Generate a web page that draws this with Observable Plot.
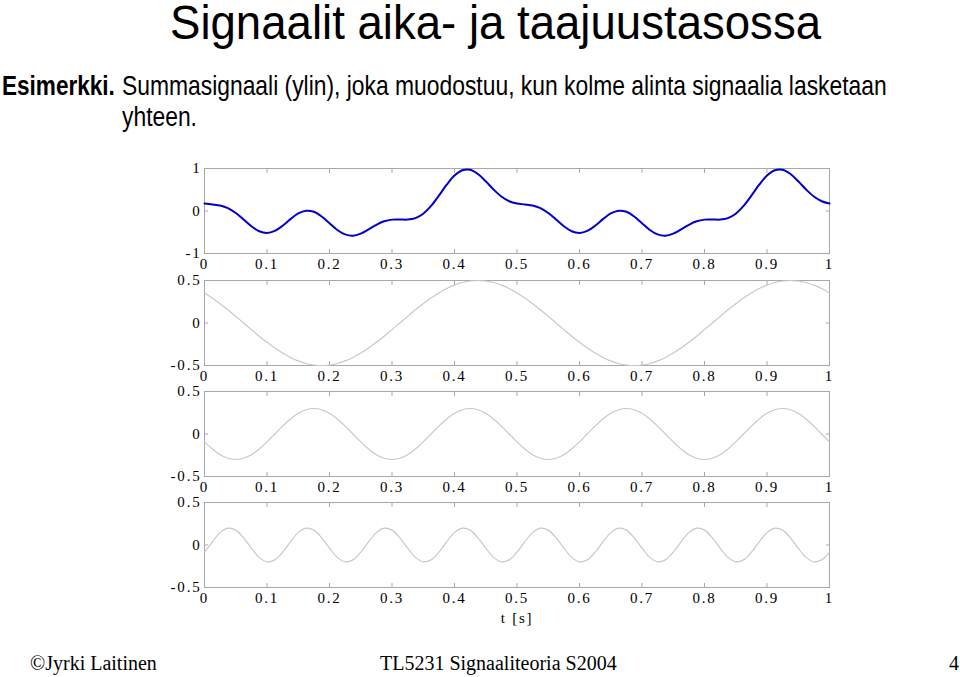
<!DOCTYPE html>
<html>
<head>
<meta charset="utf-8">
<script src="https://cdn.jsdelivr.net/npm/d3@7"></script>
<script src="https://cdn.jsdelivr.net/npm/@observablehq/plot@0.6"></script>
<style>
  html, body { margin: 0; padding: 0; background: #fff; }
  #page { position: relative; width: 960px; height: 677px; background: #fff; overflow: hidden; }
  .narrow { position: absolute; font-family: "Liberation Sans", Arial, sans-serif; transform-origin: 0 0; white-space: nowrap; color: #000; }
  .foot { position: absolute; font-family: "Liberation Serif", "Times New Roman", serif; font-size: 20px; white-space: nowrap; color: #000; }
  .panel { position: absolute; }
</style>
</head>
<body>
<div id="page">
  <div class="narrow" id="title" style="font-size:49px; line-height:42px; left:170px; top:1px; transform:scaleX(0.93);">Signaalit aika- ja taajuustasossa</div>
  <div class="narrow" style="font-size:27.5px; line-height:27.5px; left:2px; top:72px; transform:scaleX(0.82);"><b>Esimerkki.</b></div>
  <div class="narrow" style="font-size:27.5px; line-height:27.5px; left:122px; top:72px; transform:scaleX(0.831);">Summasignaali (ylin), joka muodostuu, kun kolme alinta signaalia lasketaan</div>
  <div class="narrow" style="font-size:27.5px; line-height:27.5px; left:122px; top:103px; transform:scaleX(0.831);">yhteen.</div>
  <div class="foot" style="left:30px; top:652px;">©Jyrki Laitinen</div>
  <div class="foot" style="left:380px; top:652px;">TL5231 Signaaliteoria S2004</div>
  <div class="foot" style="left:949px; top:652px;">4</div>
</div>
<script>
// ---- data ----
const times = [0, 0.0125, 0.025, 0.0375, 0.05, 0.0625, 0.075, 0.0875, 0.1, 0.1125,
  0.125, 0.1375, 0.15, 0.1625, 0.175, 0.1875, 0.2, 0.2125, 0.225, 0.2375,
  0.25, 0.2625, 0.275, 0.2875, 0.3, 0.3125, 0.325, 0.3375, 0.35, 0.3625,
  0.375, 0.3875, 0.4, 0.4125, 0.425, 0.4375, 0.45, 0.4625, 0.475, 0.4875,
  0.5, 0.5125, 0.525, 0.5375, 0.55, 0.5625, 0.575, 0.5875, 0.6, 0.6125,
  0.625, 0.6375, 0.65, 0.6625, 0.675, 0.6875, 0.7, 0.7125, 0.725, 0.7375,
  0.75, 0.7625, 0.775, 0.7875, 0.8, 0.8125, 0.825, 0.8375, 0.85, 0.8625,
  0.875, 0.8875, 0.9, 0.9125, 0.925, 0.9375, 0.95, 0.9625, 0.975, 0.9875, 1];

// top panel: sum signal (blue)
const sumSignal = [0.176, 0.155, 0.130, 0.068, -0.047, -0.200, -0.358, -0.477, -0.518, -0.469,
  -0.346, -0.192, -0.057, 0.007, -0.019, -0.130, -0.288, -0.446, -0.551, -0.580,
  -0.532, -0.433, -0.324, -0.242, -0.203, -0.200, -0.202, -0.167, -0.064, 0.119,
  0.362, 0.618, 0.835, 0.959, 0.969, 0.870, 0.700, 0.506, 0.341, 0.230,
  0.176, 0.155, 0.130, 0.068, -0.047, -0.200, -0.358, -0.477, -0.518, -0.469,
  -0.346, -0.192, -0.057, 0.007, -0.019, -0.130, -0.288, -0.446, -0.551, -0.580,
  -0.532, -0.433, -0.324, -0.242, -0.203, -0.200, -0.202, -0.167, -0.064, 0.119,
  0.362, 0.618, 0.835, 0.959, 0.969, 0.870, 0.700, 0.506, 0.341, 0.230, 0.176];

// second panel: 2 Hz component
const signal2 = [0.354, 0.294, 0.227, 0.155, 0.078, 0, -0.078, -0.155, -0.227, -0.294,
  -0.354, -0.405, -0.446, -0.476, -0.494, -0.5, -0.494, -0.476, -0.446, -0.405,
  -0.354, -0.294, -0.227, -0.155, -0.078, 0, 0.078, 0.155, 0.227, 0.294,
  0.354, 0.405, 0.446, 0.476, 0.494, 0.5, 0.494, 0.476, 0.446, 0.405,
  0.354, 0.294, 0.227, 0.155, 0.078, 0, -0.078, -0.155, -0.227, -0.294,
  -0.354, -0.405, -0.446, -0.476, -0.494, -0.5, -0.494, -0.476, -0.446, -0.405,
  -0.354, -0.294, -0.227, -0.155, -0.078, 0, 0.078, 0.155, 0.227, 0.294,
  0.354, 0.405, 0.446, 0.476, 0.494, 0.5, 0.494, 0.476, 0.446, 0.405, 0.354];

// third panel: 4 Hz component
const signal3 = [-0.093, -0.176, -0.243, -0.285, -0.3, -0.285, -0.243, -0.176, -0.093, 0,
  0.093, 0.176, 0.243, 0.285, 0.3, 0.285, 0.243, 0.176, 0.093, 0,
  -0.093, -0.176, -0.243, -0.285, -0.3, -0.285, -0.243, -0.176, -0.093, 0,
  0.093, 0.176, 0.243, 0.285, 0.3, 0.285, 0.243, 0.176, 0.093, 0,
  -0.093, -0.176, -0.243, -0.285, -0.3, -0.285, -0.243, -0.176, -0.093, 0,
  0.093, 0.176, 0.243, 0.285, 0.3, 0.285, 0.243, 0.176, 0.093, 0,
  -0.093, -0.176, -0.243, -0.285, -0.3, -0.285, -0.243, -0.176, -0.093, 0,
  0.093, 0.176, 0.243, 0.285, 0.3, 0.285, 0.243, 0.176, 0.093, 0, -0.093];

// bottom panel: 8 Hz component
const signal4 = [-0.085, 0.037, 0.146, 0.198, 0.175, 0.085, -0.037, -0.146, -0.198, -0.175,
  -0.085, 0.037, 0.146, 0.198, 0.175, 0.085, -0.037, -0.146, -0.198, -0.175,
  -0.085, 0.037, 0.146, 0.198, 0.175, 0.085, -0.037, -0.146, -0.198, -0.175,
  -0.085, 0.037, 0.146, 0.198, 0.175, 0.085, -0.037, -0.146, -0.198, -0.175,
  -0.085, 0.037, 0.146, 0.198, 0.175, 0.085, -0.037, -0.146, -0.198, -0.175,
  -0.085, 0.037, 0.146, 0.198, 0.175, 0.085, -0.037, -0.146, -0.198, -0.175,
  -0.085, 0.037, 0.146, 0.198, 0.175, 0.085, -0.037, -0.146, -0.198, -0.175,
  -0.085, 0.037, 0.146, 0.198, 0.175, 0.085, -0.037, -0.146, -0.198, -0.175, -0.085];

const xTicks = [0, 0.1, 0.2, 0.3, 0.4, 0.5, 0.6, 0.7, 0.8, 0.9, 1];
const yTicksSum = [-1, 0, 1];
const yTicksPart = [-0.5, 0, 0.5];
const xLabel = "t [s]";

// ---- drawing ----
const frameGray = "#a8a8a8";
const panels = [
  {values: sumSignal, yDomain: [-1, 1], yTicks: yTicksSum, color: "#0000c8", sw: 2, top: 168},
  {values: signal2, yDomain: [-0.5, 0.5], yTicks: yTicksPart, color: "#c8c8c8", sw: 1.2, top: 280},
  {values: signal3, yDomain: [-0.5, 0.5], yTicks: yTicksPart, color: "#c8c8c8", sw: 1.2, top: 391},
  {values: signal4, yDomain: [-0.5, 0.5], yTicks: yTicksPart, color: "#c8c8c8", sw: 1.2, top: 502, last: true}
];

const mL = 45, mR = 15, mT = 10, innerW = 625, innerH = 85;
const page = document.getElementById("page");

panels.forEach(p => {
  const rows = times.map((t, i) => ({t, v: p.values[i]}));
  const mB = p.last ? 50 : 25;
  const chart = Plot.plot({
    width: mL + innerW + mR,
    height: mT + innerH + mB,
    marginLeft: mL, marginRight: mR, marginTop: mT, marginBottom: mB,
    style: {background: "transparent", fontFamily: "'Liberation Serif', 'Times New Roman', serif",
            fontSize: "15px", letterSpacing: "1.8px", color: "#000", overflow: "visible"},
    x: {domain: [0, 1]},
    y: {domain: p.yDomain},
    marks: [
      Plot.frame({stroke: frameGray}),
      Plot.axisX({ticks: xTicks, anchor: "bottom", tickSize: -4, tickFormat: () => "", stroke: frameGray, label: null}),
      Plot.axisX({ticks: xTicks, anchor: "top", tickSize: -4, tickFormat: () => "", stroke: frameGray, label: null}),
      Plot.axisY({ticks: p.yTicks, anchor: "left", tickSize: -4, tickFormat: () => "", stroke: frameGray, label: null}),
      Plot.axisY({ticks: p.yTicks, anchor: "right", tickSize: -4, tickFormat: () => "", stroke: frameGray, label: null}),
      Plot.axisX({ticks: xTicks, anchor: "bottom", tickSize: 0, tickPadding: 5, tickFormat: d => String(d),
                  label: p.last ? xLabel : null, labelAnchor: "center", labelOffset: 35, labelArrow: "none"}),
      Plot.axisY({ticks: p.yTicks, anchor: "left", tickSize: 0, tickPadding: 3, tickFormat: d => String(d), label: null}),
      Plot.line(rows, {x: "t", y: "v", stroke: p.color, strokeWidth: p.sw, curve: "catmull-rom"})
    ]
  });
  const holder = document.createElement("div");
  holder.className = "panel";
  holder.style.left = (204 - mL) + "px";
  holder.style.top = (p.top - mT) + "px";
  holder.appendChild(chart);
  page.appendChild(holder);
});
</script>
</body>
</html>
